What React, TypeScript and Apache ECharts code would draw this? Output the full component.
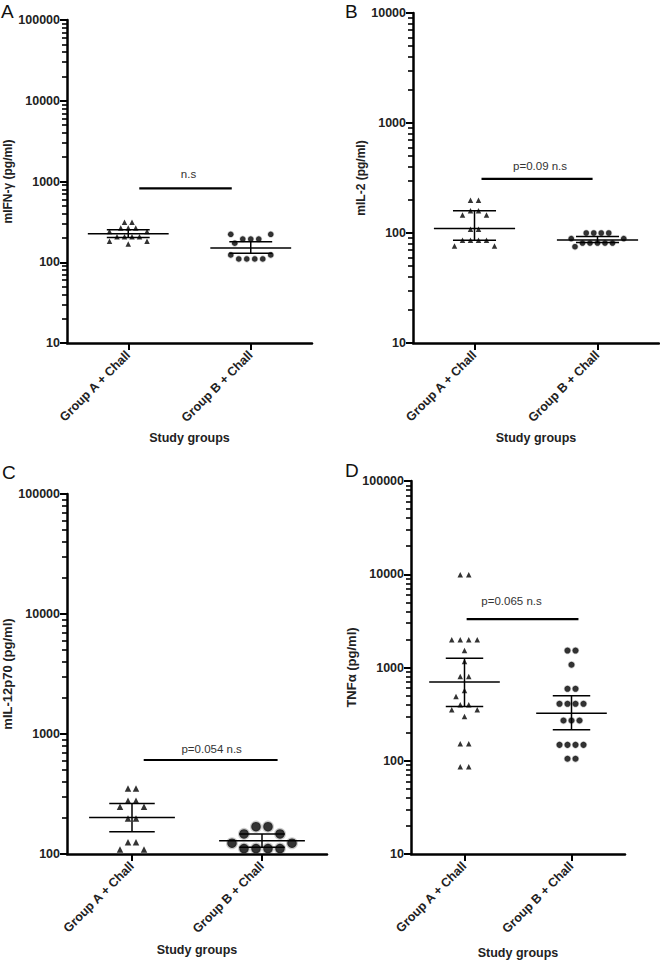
import React, { useEffect, useRef } from "react";
import * as echarts from "echarts";

// ---------- data ----------
const categories = ["Group A + Chall", "Group B + Chall"];
const xAxisTitle = "Study groups";

// Panel A: mIFN-γ
const ifnGroupA = [312, 312, 265, 265, 265, 241, 241, 207, 207, 207, 207, 182, 182, 168];
const ifnGroupB = [222, 222, 194, 194, 194, 172, 123, 123, 110, 110, 110, 110];
const ifnMeanSem = [[226, 203, 252], [150, 129, 180]]; // mean, lower, upper
const ifnSigValue = 820;
const ifnSigLabel = "n.s";

// Panel B: mIL-2
const il2GroupA = [199, 199, 159, 159, 146, 146, 108, 108, 86, 86, 86, 86, 76, 76];
const il2GroupB = [100, 100, 100, 100, 89, 89, 81, 81, 81, 81, 81, 75];
const il2MeanSem = [[110, 86, 159], [86.5, 82, 93]];
const il2SigValue = 310;
const il2SigLabel = "p=0.09 n.s";

// Panel C: mIL-12p70
const il12GroupA = [352, 352, 278, 278, 248, 248, 198, 198, 125, 125, 109, 109];
const il12GroupB = [169, 169, 147, 147, 123, 123, 111, 111, 111, 111];
const il12MeanSem = [[201, 153, 264], [129, 114, 147]];
const il12SigValue = 607;
const il12SigLabel = "p=0.054 n.s";

// Panel D: TNFα
const tnfGroupA = [9900, 9900, 1980, 1980, 1980, 1980, 1520, 1160, 800, 800, 566, 489, 398, 398, 352, 352, 298, 152, 152, 86, 86];
const tnfGroupB = [1520, 1520, 1070, 591, 591, 408, 408, 408, 408, 270, 270, 270, 148, 148, 148, 148, 105, 105];
const tnfMeanSem = [[697, 382, 1260], [324, 215, 497]];
const tnfSigValue = 3300;
const tnfSigLabel = "p=0.065 n.s";

const panelLetters = ["A", "B", "C", "D"];
const yTitles = ["mIFN-\u03b3 (pg/ml)", "mIL-2 (pg/ml)", "mIL-12p70 (pg/ml)", "TNF\u03b1 (pg/ml)"];
const yRanges = [[10, 100000], [10, 10000], [100, 100000], [10, 100000]];

const panelsData = [
  { a: ifnGroupA, b: ifnGroupB, stats: ifnMeanSem, sig: ifnSigValue, sigLabel: ifnSigLabel },
  { a: il2GroupA, b: il2GroupB, stats: il2MeanSem, sig: il2SigValue, sigLabel: il2SigLabel },
  { a: il12GroupA, b: il12GroupB, stats: il12MeanSem, sig: il12SigValue, sigLabel: il12SigLabel },
  { a: tnfGroupA, b: tnfGroupB, stats: tnfMeanSem, sig: tnfSigValue, sigLabel: tnfSigLabel },
];

// ---------- layout / style ----------
const FONT = "'Liberation Sans', Arial, sans-serif";
const layout = [
  { left: 67, top: 20, width: 245, height: 323, nameGapY: 51, titleSize: 12, triSize: 5.5, circSize: 5.5, triS: 7.5, circS: 8, triD: 6.5, circD: 6.5, sigStart: 0.09, sigEnd: -0.155, sigTextDx: 3, sigTextGap: 14, letter: [1, 2], nameGapX: 88 },
  { left: 413, top: 13, width: 246, height: 330, nameGapY: 30, titleSize: 12, triSize: 5.5, circSize: 5.5, triS: 8, circS: 7.5, triD: 6.5, circD: 6.5, sigStart: 0.057, sigEnd: -0.04, sigTextDx: 3, sigTextGap: 13, letter: [345, 2], nameGapX: 88 },
  { left: 67, top: 494, width: 260, height: 360, nameGapY: 53, titleSize: 13, triSize: 6.5, circSize: 9.5, triS: 8, circS: 12, triD: 7.5, circD: 11, sigStart: 0.09, sigEnd: 0.12, sigTextDx: 1, sigTextGap: 11, letter: [2, 463], nameGapX: 89 },
  { left: 411, top: 481, width: 214, height: 373, nameGapY: 48, titleSize: 13, triSize: 5.5, circSize: 6, triS: 8.5, circS: 8, triD: 7, circD: 7, sigStart: 0.02, sigEnd: 0.065, sigTextDx: -11, sigTextGap: 18.5, letter: [345, 461], nameGapX: 92 },
];

function swarmOffsets(values: number[], yPx: (v: number) => number, s: number, d: number): number[] {
  const groups = new Map<number, number[]>();
  values.forEach((v, i) => {
    if (!groups.has(v)) groups.set(v, []);
    groups.get(v)!.push(i);
  });
  const order = [...groups.entries()].sort((p, q) => q[1].length - p[1].length || q[0] - p[0]);
  const placed: { x: number; y: number }[] = [];
  const offsets = new Array(values.length).fill(0);
  for (const [v, idxs] of order) {
    const y = yPx(v);
    const even = idxs.length % 2 === 0;
    const cands: number[] = [];
    for (let k = 0; k < 40; k++) {
      if (even) {
        const c = (k + 0.5) * s;
        cands.push(-c, c);
      } else if (k === 0) cands.push(0);
      else cands.push(-k * s, k * s);
    }
    for (const i of idxs) {
      for (const c of cands) {
        if (placed.some((p) => Math.hypot(p.x - c, p.y - y) < d)) continue;
        placed.push({ x: c, y });
        offsets[i] = c;
        break;
      }
    }
  }
  return offsets;
}

function minorValues(min: number, max: number): number[] {
  const out: number[] = [];
  for (let p = min; p < max; p *= 10) {
    for (let m = 2; m <= 9; m++) out.push(m * p);
  }
  return out;
}

function buildOption() {
  const grid: any[] = [];
  const xAxis: any[] = [];
  const yAxis: any[] = [];
  const series: any[] = [];
  const graphic: any[] = [];

  panelsData.forEach((pd, i) => {
    const L = layout[i];
    const [ymin, ymax] = yRanges[i];
    const lmin = Math.log10(ymin);
    const lmax = Math.log10(ymax);
    const yPx = (v: number) => L.top + (L.height * (lmax - Math.log10(v))) / (lmax - lmin);

    grid.push({ left: L.left, top: L.top, width: L.width, height: L.height });

    xAxis.push({
      type: "category",
      gridIndex: i,
      data: categories,
      boundaryGap: true,
      axisLine: { onZero: false, lineStyle: { color: "#000", width: 2.5 } },
      axisTick: { show: true, alignWithLabel: true, length: 7, lineStyle: { color: "#000", width: 2 } },
      axisLabel: { interval: 0, rotate: 45, margin: 10, color: "#222", fontFamily: FONT, fontWeight: "bold", fontSize: 12.5 },
      splitLine: { show: false },
      name: xAxisTitle,
      nameLocation: "middle",
      nameGap: L.nameGapX,
      nameTextStyle: { color: "#222", fontFamily: FONT, fontWeight: "bold", fontSize: 12.5 },
    });

    yAxis.push({
      type: "log",
      gridIndex: i,
      position: "left",
      min: ymin,
      max: ymax,
      axisLine: { show: true, lineStyle: { color: "#000", width: 2.5 } },
      axisTick: { show: true, length: 7, lineStyle: { color: "#000", width: 2 } },
      axisLabel: { margin: 7, color: "#222", fontFamily: FONT, fontWeight: "bold", fontSize: 12.5, formatter: (v: number) => String(Math.round(v)) },
      splitLine: { show: false },
      name: yTitles[i],
      nameLocation: "middle",
      nameGap: L.nameGapY,
      nameTextStyle: { color: "#222", fontFamily: FONT, fontWeight: "bold", fontSize: L.titleSize },
    });
    yAxis.push({
      type: "log",
      gridIndex: i,
      position: "left",
      min: ymin,
      max: ymax,
      axisLine: { show: false },
      axisTick: { show: true, length: 5, lineStyle: { color: "#000", width: 1.6 }, customValues: minorValues(ymin, ymax) },
      axisLabel: { show: false },
      splitLine: { show: false },
    });

    const offA = swarmOffsets(pd.a, yPx, L.triS, L.triD);
    const offB = swarmOffsets(pd.b, yPx, L.circS, L.circD);

    series.push({
      type: "scatter",
      xAxisIndex: i,
      yAxisIndex: 2 * i,
      symbol: "triangle",
      symbolSize: L.triSize,
      itemStyle: { color: "#000" },
      data: pd.a.map((v, k) => ({ value: [0, v], symbolOffset: [offA[k], 0] })),
      z: 3,
    });
    series.push({
      type: "scatter",
      xAxisIndex: i,
      yAxisIndex: 2 * i,
      symbol: "circle",
      symbolSize: L.circSize,
      itemStyle: { color: "#000", borderColor: "rgba(0,0,0,0.25)", borderWidth: L.circSize > 8 ? 2.5 : 1.5 },
      data: pd.b.map((v, k) => ({ value: [1, v], symbolOffset: [offB[k], 0] })),
      z: 3,
    });

    series.push({
      type: "custom",
      xAxisIndex: i,
      yAxisIndex: 2 * i,
      z: 4,
      encode: { x: 0, y: [1, 2, 3] },
      data: pd.stats.map((s, k) => [k, s[0], s[1], s[2]]),
      renderItem: (params: any, api: any) => {
        const cat = api.value(0);
        const pm = api.coord([cat, api.value(1)]);
        const pl = api.coord([cat, api.value(2)]);
        const ph = api.coord([cat, api.value(3)]);
        const band = params.coordSys.width / categories.length;
        const mw = band * 0.33;
        const cw = band * 0.175;
        const st = { stroke: "#000", lineWidth: 1.5 };
        return {
          type: "group",
          children: [
            { type: "line", shape: { x1: pm[0] - mw, y1: pm[1], x2: pm[0] + mw, y2: pm[1] }, style: st },
            { type: "line", shape: { x1: pl[0], y1: pl[1], x2: ph[0], y2: ph[1] }, style: st },
            { type: "line", shape: { x1: ph[0] - cw, y1: ph[1], x2: ph[0] + cw, y2: ph[1] }, style: st },
            { type: "line", shape: { x1: pl[0] - cw, y1: pl[1], x2: pl[0] + cw, y2: pl[1] }, style: st },
          ],
        };
      },
    });

    series.push({
      type: "custom",
      xAxisIndex: i,
      yAxisIndex: 2 * i,
      z: 4,
      encode: { x: 0, y: 1 },
      data: [[0, pd.sig]],
      renderItem: (params: any, api: any) => {
        const v = api.value(1);
        const a = api.coord([0, v]);
        const b = api.coord([1, v]);
        const band = params.coordSys.width / categories.length;
        const x1 = a[0] + L.sigStart * band;
        const x2 = b[0] + L.sigEnd * band;
        return {
          type: "group",
          children: [
            { type: "line", shape: { x1, y1: a[1], x2, y2: a[1] }, style: { stroke: "#000", lineWidth: 2.2 } },
            {
              type: "text",
              x: (x1 + x2) / 2 + L.sigTextDx,
              y: a[1] - L.sigTextGap,
              style: { text: pd.sigLabel, fill: "#333", fontFamily: FONT, fontSize: 11.5, align: "center", verticalAlign: "middle" },
            },
          ],
        };
      },
    });

    graphic.push({
      type: "text",
      left: L.letter[0],
      top: L.letter[1],
      style: { text: panelLetters[i], fill: "#111", fontFamily: FONT, fontSize: 19 },
    });
  });

  return {
    animation: false,
    backgroundColor: "#fff",
    grid,
    xAxis,
    yAxis,
    series,
    graphic,
  };
}

export default function App() {
  const ref = useRef<HTMLDivElement>(null);
  useEffect(() => {
    if (!ref.current) return;
    const chart = echarts.init(ref.current, undefined, { renderer: "svg" });
    chart.setOption(buildOption() as any);
    return () => chart.dispose();
  }, []);
  return <div ref={ref} style={{ position: "fixed", left: 0, top: 0, width: 660, height: 961 }} />;
}
